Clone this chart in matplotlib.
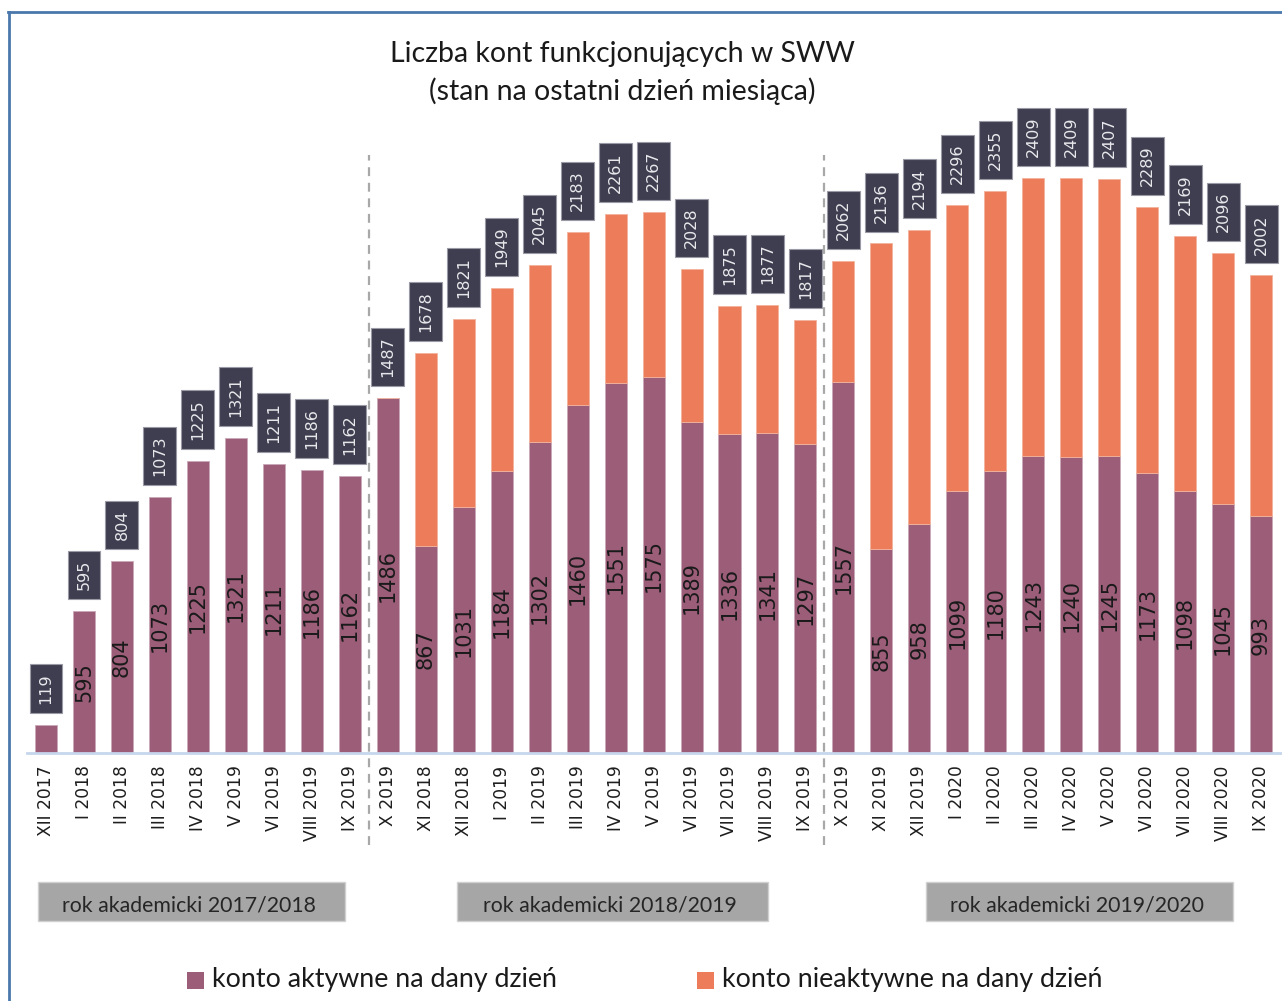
import matplotlib
matplotlib.use("Agg")
import matplotlib.pyplot as plt
from matplotlib.patches import Rectangle
from matplotlib.lines import Line2D
import numpy as np

months = ["XII 2017", "I 2018", "II 2018", "III 2018", "IV 2018", "V 2019", "VI 2019", "VIII 2019", "IX 2019",
          "X 2019", "XI 2018", "XII 2018", "I 2019", "II 2019", "III 2019", "IV 2019", "V 2019", "VI 2019",
          "VII 2019", "VIII 2019", "IX 2019",
          "X 2019", "XI 2019", "XII 2019", "I 2020", "II 2020", "III 2020", "IV 2020", "V 2020", "VI 2020",
          "VII 2020", "VIII 2020", "IX 2020"]
totals = [119, 595, 804, 1073, 1225, 1321, 1211, 1186, 1162,
          1487, 1678, 1821, 1949, 2045, 2183, 2261, 2267, 2028, 1875, 1877, 1817,
          2062, 2136, 2194, 2296, 2355, 2409, 2409, 2407, 2289, 2169, 2096, 2002]
active = [119, 595, 804, 1073, 1225, 1321, 1211, 1186, 1162,
          1486, 867, 1031, 1184, 1302, 1460, 1551, 1575, 1389, 1336, 1341, 1297,
          1557, 855, 958, 1099, 1180, 1243, 1240, 1245, 1173, 1098, 1045, 993]
inactive = [t - a for t, a in zip(totals, active)]
group_labels = ["rok akademicki 2017/2018", "rok akademicki 2018/2019", "rok akademicki 2019/2020"]
group_sizes = [9, 12, 12]
legend_labels = ["konto aktywne na dany dzień", "konto nieaktywne na dany dzień"]
title = "Liczba kont funkcjonujących w SWW\n(stan na ostatni dzień miesiąca)"

C_ACT = "#9b5d78"
C_INACT = "#ec7c5a"
C_BOX = "#3e3e50"

W, H = 1282, 1001
fig = plt.figure(figsize=(W / 100, H / 100), dpi=100)

def fx(px):
    return px / W

def fy(py):
    return 1 - py / H

# axes: left 27px, right 1282px, bottom 753px, top 85px
ax = fig.add_axes([fx(27), fy(753), fx(1282 - 27), (753 - 85) / H])
x = np.arange(len(months))
ax.bar(x, active, width=0.58, color=C_ACT, edgecolor="#c9a9b7", linewidth=0.6)
inact_lw = [0.6 if v > 0 else 0 for v in inactive]
ax.bar(x, inactive, bottom=active, width=0.58, color=C_INACT, edgecolor="#f3b39d", linewidth=inact_lw)
ax.set_xlim(-0.5, 32.55)
ax.set_ylim(0, 2800)

for s in ["top", "right", "left"]:
    ax.spines[s].set_visible(False)
ax.spines["bottom"].set_color("#c6d6ec")
ax.spines["bottom"].set_linewidth(2)
ax.set_yticks([])
ax.set_xticks(x)
ax.set_xticklabels(months, rotation=90, fontsize=12.3, color="#1e1e1e", family="DejaVu Sans")
ax.tick_params(axis="x", length=0, pad=9)

# value labels
for i in range(len(months)):
    ax.annotate(str(totals[i]), xy=(x[i], totals[i]), xytext=(0, 15), textcoords="offset points",
                rotation=90, ha="center", va="bottom", fontsize=11.5, color="#e8e8ec",
                family="DejaVu Sans",
                bbox=dict(boxstyle="square,pad=0.56", facecolor=C_BOX, edgecolor="#9a9aa6", linewidth=0.8),
                annotation_clip=False)
    if active[i] > 300:
        ax.text(x[i], active[i] / 2, str(active[i]), rotation=90, ha="center", va="center",
                fontsize=15, color="#1a1a1a", family="DejaVu Sans")

# dashed separators
cum = np.cumsum(group_sizes)[:-1]
for c in cum:
    ax.plot([c - 0.5, c - 0.5], [-385, 2506], linestyle=(0, (4, 3)), color="#a8a8a8",
            linewidth=1.6, clip_on=False)

# title
fig.text(fx(622), fy(73), title, ha="center", va="center", fontsize=20.5, family="Lato",
         color="#1a1a1a", linespacing=1.5)

# group boxes
boxes = [(38, 345), (457, 768), (926, 1233)]
for (x0, x1), lab in zip(boxes, group_labels):
    fig.patches.append(Rectangle((fx(x0), fy(921)), fx(x1 - x0), 39 / H, transform=fig.transFigure,
                                 facecolor="#a6a6a6", edgecolor="#d0d0d0", linewidth=1))
    fig.text(fx((x0 + x1) / 2 - 3), fy(905), lab, ha="center", va="center", fontsize=15.3,
             family="Lato", color="#262626")

# legend
leg_items = [(187, C_ACT, legend_labels[0]), (697, C_INACT, legend_labels[1])]
for px, col, lab in leg_items:
    fig.patches.append(Rectangle((fx(px), fy(989)), fx(17), 17 / H, transform=fig.transFigure,
                                 facecolor=col, edgecolor="none"))
    fig.text(fx(px + 25), fy(979), lab, ha="left", va="center", fontsize=19.3, family="Lato",
             color="#1a1a1a")

# outer frame (left and top)
fig.lines.append(Line2D([fx(9), fx(9)], [fy(12), 0], transform=fig.transFigure,
                        color="#4a78ad", linewidth=2))
fig.lines.append(Line2D([fx(8), 1], [fy(12), fy(12)], transform=fig.transFigure,
                        color="#4a78ad", linewidth=2))

fig.savefig("out.png", dpi=100)
